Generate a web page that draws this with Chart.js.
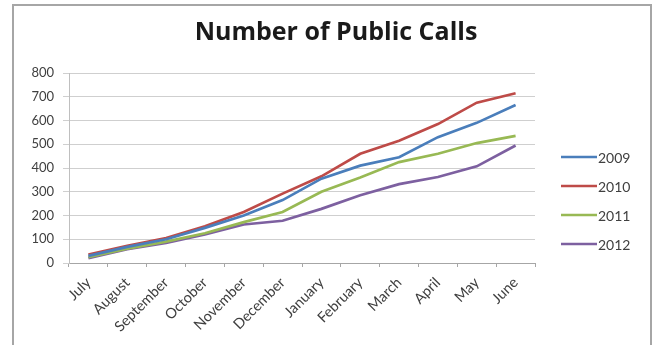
<!DOCTYPE html>
<html>
<head>
<meta charset="utf-8">
<script src="https://cdn.jsdelivr.net/npm/chart.js@4"></script>
<style>
  html, body { margin: 0; padding: 0; background: #fff; }
  #wrap { position: relative; width: 660px; height: 345px; }
</style>
</head>
<body>
<div id="wrap"><canvas id="c" width="660" height="345"></canvas></div>
<script>
const TITLE = 'Number of Public Calls';
const months = ['July', 'August', 'September', 'October', 'November', 'December',
                'January', 'February', 'March', 'April', 'May', 'June'];
const yTicks = [0, 100, 200, 300, 400, 500, 600, 700, 800];
const calls2009 = [30, 68, 100, 148, 200, 265, 355, 410, 445, 530, 590, 665];
const calls2010 = [35, 72, 105, 155, 215, 292, 365, 460, 515, 585, 675, 715];
const calls2011 = [25, 60, 90, 125, 172, 215, 300, 360, 425, 460, 505, 535];
const calls2012 = [20, 58, 85, 120, 162, 178, 228, 285, 332, 362, 407, 495];

const FONT = 'Lato, "Open Sans", sans-serif';
const TITLE_FONT = '"Open Sans", Lato, sans-serif';

function series(label, data, color) {
  return {
    label, data,
    borderColor: color, backgroundColor: color,
    borderWidth: 2.7, pointRadius: 0, tension: 0, fill: false
  };
}

// Frame, title and a hand-placed legend drawn around the plot
const decor = {
  id: 'decor',
  beforeDraw(chart) {
    const ctx = chart.ctx;
    ctx.save();
    ctx.fillStyle = '#fff';
    ctx.fillRect(0, 0, chart.width, chart.height);
    ctx.strokeStyle = '#a6a6a6';
    ctx.lineWidth = 2;
    ctx.beginPath();
    ctx.moveTo(13, 345); ctx.lineTo(13, 5); ctx.lineTo(651, 5); ctx.lineTo(651, 345);
    ctx.stroke();
    ctx.restore();
  },
  afterDraw(chart) {
    const ctx = chart.ctx;
    ctx.save();
    ctx.fillStyle = '#1a1a1a';
    ctx.font = 'bold 25px ' + TITLE_FONT;
    ctx.textAlign = 'center';
    ctx.textBaseline = 'middle';
    ctx.fillText(TITLE, 336, 33);

    ctx.font = '14px ' + FONT;
    ctx.textAlign = 'left';
    chart.data.datasets.forEach((ds, i) => {
      const y = 157 + i * 29;
      ctx.strokeStyle = ds.borderColor;
      ctx.lineWidth = 2.5;
      ctx.beginPath();
      ctx.moveTo(561, y); ctx.lineTo(597, y);
      ctx.stroke();
      ctx.fillStyle = '#404040';
      ctx.fillText(ds.label, 598, y + 1);
    });
    ctx.restore();
  }
};

new Chart(document.getElementById('c'), {
  type: 'line',
  plugins: [decor],
  data: {
    labels: months,
    datasets: [
      series('2009', calls2009, '#4a7ebb'),
      series('2010', calls2010, '#be4b48'),
      series('2011', calls2011, '#98b954'),
      series('2012', calls2012, '#7d60a0')
    ]
  },
  options: {
    responsive: false,
    animation: false,
    layout: { padding: { top: 73, right: 125, bottom: 0, left: 0 } },
    plugins: { legend: { display: false }, title: { display: false }, tooltip: { enabled: false } },
    scales: {
      x: {
        offset: true,
        grid: { offset: true, drawOnChartArea: false, color: '#a6a6a6', tickLength: 4 },
        border: { color: '#a6a6a6' },
        ticks: { minRotation: 45, maxRotation: 45, autoSkip: false, color: '#404040',
                 font: { family: FONT, size: 14.5 }, padding: 7 },
        afterFit(s) { s.height = 82; }
      },
      y: {
        min: 0, max: 800,
        afterBuildTicks(s) { s.ticks = yTicks.map(v => ({ value: v })); },
        grid: { color: '#cfcfcf', tickLength: 6, lineWidth: 1 },
        border: { color: '#bfbfbf' },
        ticks: { color: '#404040', font: { family: FONT, size: 13 }, padding: 9 },
        afterFit(s) { s.width = 69; }
      }
    }
  }
});
</script>
</body>
</html>
